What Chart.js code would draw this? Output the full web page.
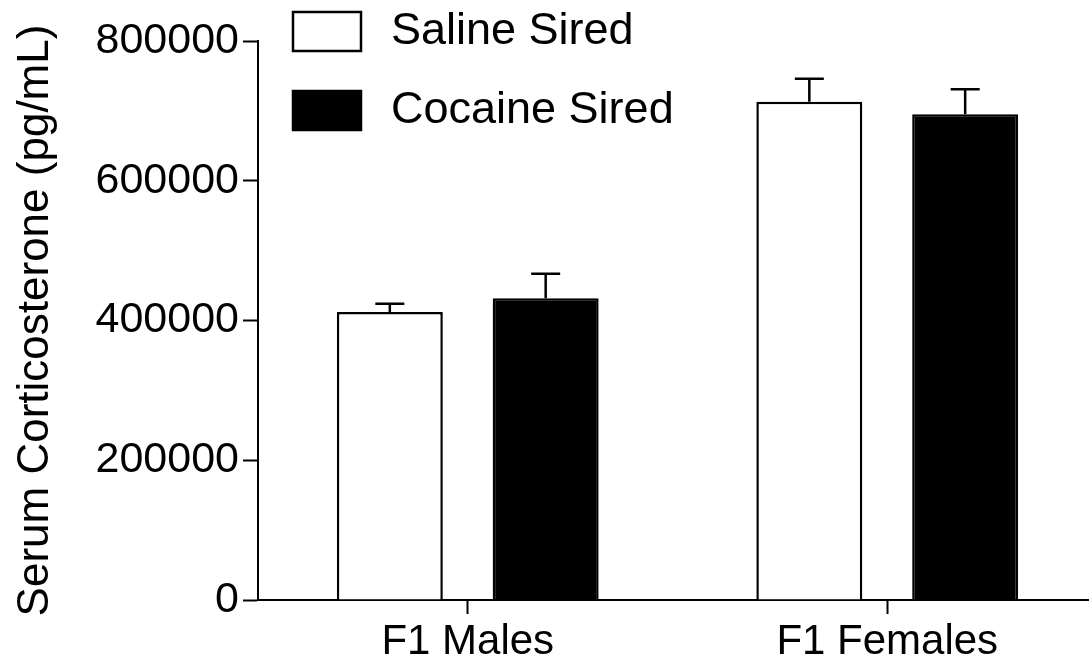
<!DOCTYPE html>
<html>
<head>
<meta charset="utf-8">
<script src="https://cdn.jsdelivr.net/npm/chart.js@4/dist/chart.umd.min.js"></script>
<style>
  html, body { margin: 0; padding: 0; background: #fff; overflow: hidden; }
  #wrap { width: 1100px; height: 664px; }
</style>
</head>
<body>
<div id="wrap"><canvas id="chart" width="1100" height="664"></canvas></div>
<script>
// Данные
const categories = ['F1 Males', 'F1 Females'];
const salineValues = [412000, 713000];
const salineErrors = [12000, 33000];
const cocaineValues = [432000, 695000];
const cocaineErrors = [35000, 36000];
const yTicks = [0, 200000, 400000, 600000, 800000];

const FONT = '"Liberation Sans", Arial, sans-serif';

// Планки погрешностей (только вверх)
const errorBars = {
  id: 'errorBars',
  afterDatasetsDraw(chart) {
    const ctx = chart.ctx;
    const yScale = chart.scales.y;
    ctx.save();
    ctx.strokeStyle = '#000';
    ctx.lineWidth = 2.5;
    chart.data.datasets.forEach((ds, i) => {
      const meta = chart.getDatasetMeta(i);
      meta.data.forEach((bar, j) => {
        const top = yScale.getPixelForValue(ds.data[j] + ds.errors[j]);
        ctx.beginPath();
        ctx.moveTo(bar.x, bar.y);
        ctx.lineTo(bar.x, top);
        ctx.moveTo(bar.x - 14.5, top);
        ctx.lineTo(bar.x + 14.5, top);
        ctx.stroke();
      });
    });
    ctx.restore();
  }
};

// Легенда в левом верхнем углу
const boxLegend = {
  id: 'boxLegend',
  afterDraw(chart) {
    const ctx = chart.ctx;
    ctx.save();
    ctx.font = `45px ${FONT}`;
    ctx.textBaseline = 'middle';
    ctx.textAlign = 'left';
    const rows = [
      { y: 12, fill: '#fff' },
      { y: 91, fill: '#000' }
    ];
    chart.data.datasets.forEach((ds, i) => {
      const r = rows[i];
      ctx.fillStyle = r.fill;
      ctx.fillRect(293, r.y, 68, 39);
      ctx.strokeStyle = '#000';
      ctx.lineWidth = 2.5;
      ctx.strokeRect(293, r.y, 68, 39);
      ctx.fillStyle = '#000';
      ctx.fillText(ds.label, 391, r.y + 20);
    });
    ctx.restore();
  }
};

const ctx = document.getElementById('chart').getContext('2d');
new Chart(ctx, {
  type: 'bar',
  data: {
    labels: categories,
    datasets: [
      {
        label: 'Saline Sired',
        data: salineValues,
        errors: salineErrors,
        backgroundColor: '#fff',
        borderColor: '#000',
        borderWidth: 2.5,
        categoryPercentage: 0.743,
        barPercentage: 0.68
      },
      {
        label: 'Cocaine Sired',
        data: cocaineValues,
        errors: cocaineErrors,
        backgroundColor: '#000',
        borderColor: '#000',
        borderWidth: 2.5,
        categoryPercentage: 0.743,
        barPercentage: 0.68
      }
    ]
  },
  options: {
    responsive: false,
    animation: false,
    layout: { padding: { top: 41, right: 3, bottom: 1, left: 0 } },
    plugins: {
      legend: { display: false },
      tooltip: { enabled: false }
    },
    scales: {
      x: {
        afterFit(scale) { scale.height = 63; },
        grid: {
          display: true,
          offset: false,
          drawOnChartArea: false,
          drawTicks: true,
          tickLength: 14,
          tickWidth: 2,
          tickColor: '#000'
        },
        border: { display: true, color: '#000', width: 2 },
        ticks: {
          color: '#000',
          padding: 7,
          font: { family: FONT, size: 42, lineHeight: 1 }
        }
      },
      y: {
        min: 0,
        max: 800000,
        afterFit(scale) { scale.width = 258; },
        afterBuildTicks(scale) { scale.ticks = yTicks.map(v => ({ value: v })); },
        grid: {
          display: true,
          drawOnChartArea: false,
          drawTicks: true,
          tickLength: 15,
          tickWidth: 2,
          tickColor: '#000'
        },
        border: { display: true, color: '#000', width: 2 },
        ticks: {
          color: '#000',
          padding: 4,
          font: { family: FONT, size: 43 },
          callback: v => String(v)
        },
        title: {
          display: true,
          text: 'Serum Corticosterone (pg/mL)',
          color: '#000',
          padding: { top: 9, bottom: 0 },
          font: { family: FONT, size: 44, lineHeight: 1.2 }
        }
      }
    }
  },
  plugins: [errorBars, boxLegend]
});
</script>
</body>
</html>
